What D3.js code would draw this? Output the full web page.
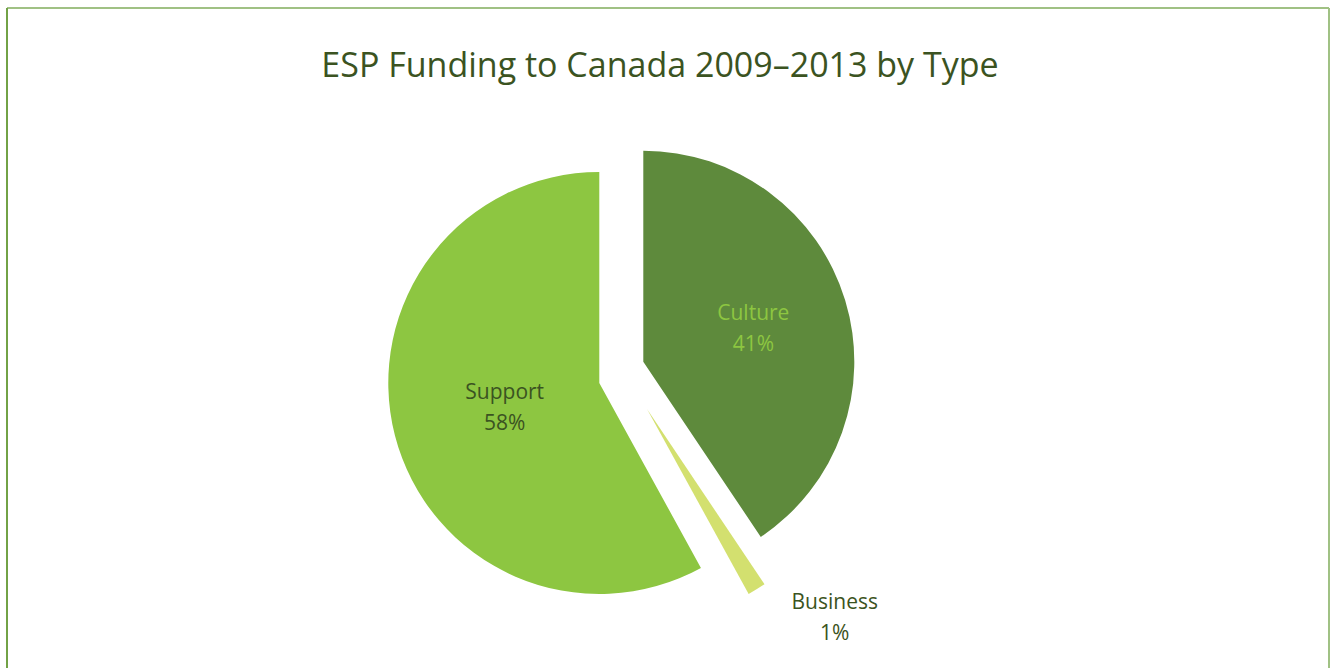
<!DOCTYPE html>
<html>
<head>
<meta charset="utf-8">
<script src="https://cdn.jsdelivr.net/npm/d3@7"></script>
<style>
  html, body { margin: 0; padding: 0; background: #fff; }
  svg { display: block; font-family: "Open Sans", "Noto Sans", sans-serif; }
</style>
</head>
<body>
<svg id="chart" width="1335" height="668"></svg>
<script>
var title = "ESP Funding to Canada 2009\u20132013 by Type";
var categories = ["Culture", "Business", "Support"];
var shares = [40.6, 1.4, 58.0];
var pctLabels = ["41%", "1%", "58%"];
var colors = ["#5e8a3c", "#d3e06f", "#8dc641"];
var labelColors = ["#8dc641", "#3b5321", "#3b5321"];

var svg = d3.select("#chart"),
    width = 1335,
    height = 668,
    cx = 620, cy = 372,   // nominal pie centre
    r = 211;

// frame
svg.append("line").attr("x1", 7).attr("y1", 8).attr("x2", 1329).attr("y2", 8)
  .attr("stroke", "#a0c184").attr("stroke-width", 2);
svg.append("line").attr("x1", 1329).attr("y1", 8).attr("x2", 1329).attr("y2", height)
  .attr("stroke", "#a0c184").attr("stroke-width", 2);
svg.append("line").attr("x1", 7).attr("y1", 8).attr("x2", 7).attr("y2", height)
  .attr("stroke", "#72a246").attr("stroke-width", 2);

svg.append("text")
  .attr("x", 660)
  .attr("y", 77)
  .attr("text-anchor", "middle")
  .attr("fill", "#3b5321")
  .style("font-size", "34px")
  .text(title);

// explode offsets per slice (pixels) and label placement [radius factor, angle deg or null]
var explode = { Culture: [23.3, -10.3], Business: [27, 37], Support: [-20.7, 11] };
var labelAt = { Culture: [0.545, null], Business: [1.327, 137.9], Support: [0.463, null] };

var data = categories.map(function(c, i) {
  return { name: c, value: shares[i], pct: pctLabels[i], color: colors[i], lc: labelColors[i] };
});

var pie = d3.pie().sort(null).value(function(d) { return d.value; });
var arc = d3.arc().innerRadius(0).outerRadius(r);
var arcs = pie(data);

var g = svg.append("g").attr("transform", "translate(" + cx + "," + cy + ")");

var slice = g.selectAll("g.slice")
  .data(arcs)
  .enter().append("g")
    .attr("class", "slice")
    .attr("transform", function(d) {
      var o = explode[d.data.name];
      return "translate(" + o[0] + "," + o[1] + ")";
    });

slice.append("path")
  .attr("d", arc)
  .attr("fill", function(d) { return d.data.color; });

var lab = slice.append("text")
  .attr("text-anchor", "middle")
  .attr("fill", function(d) { return d.data.lc; })
  .style("font-size", "21px")
  .attr("transform", function(d) {
    var p = labelAt[d.data.name];
    var a = p[1] === null ? (d.startAngle + d.endAngle) / 2 : p[1] * Math.PI / 180;
    var rr = p[0] * r;
    return "translate(" + (rr * Math.sin(a)) + "," + (-rr * Math.cos(a)) + ")";
  });

lab.append("tspan").attr("x", 0).attr("y", -8).text(function(d) { return d.data.name; });
lab.append("tspan").attr("x", 0).attr("y", 23).text(function(d) { return d.data.pct; });
</script>
</body>
</html>
